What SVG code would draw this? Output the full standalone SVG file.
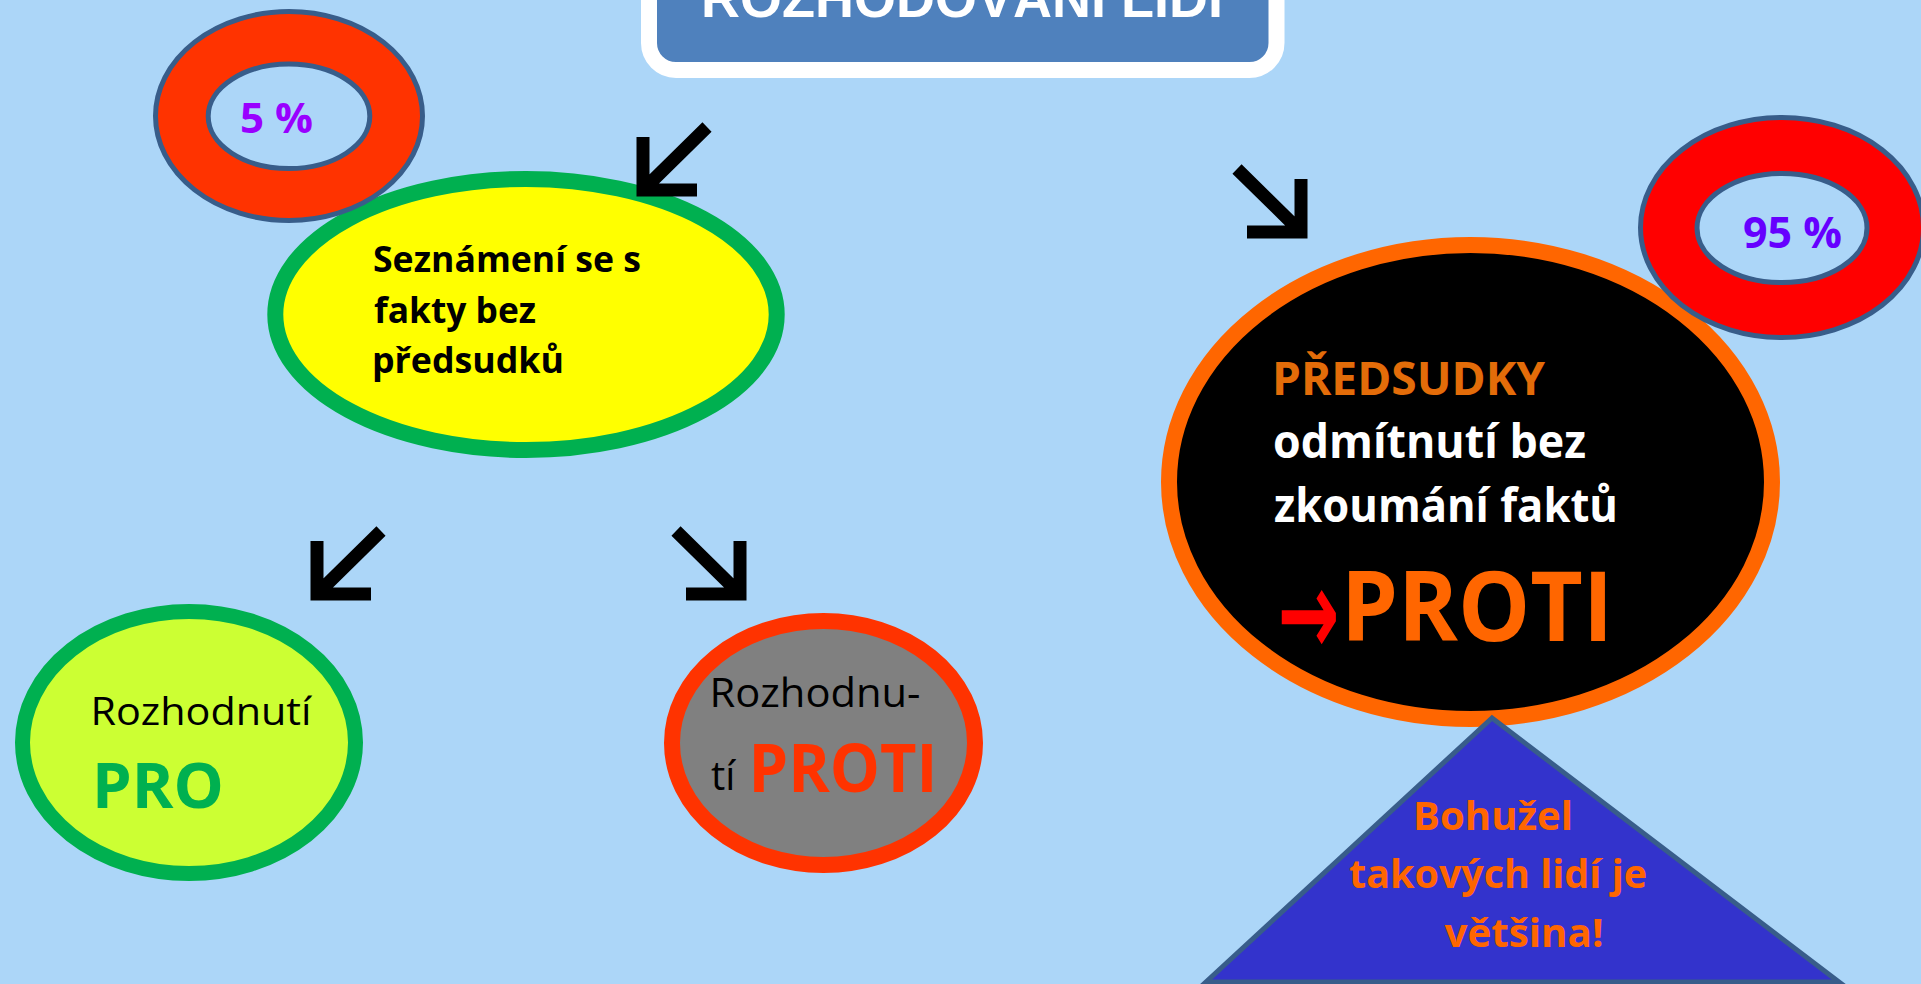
<svg xmlns="http://www.w3.org/2000/svg" width="1921" height="984" viewBox="0 0 1921 984">
<defs>
<style>
.t{font-family:"Open Sans","Noto Sans","DejaVu Sans",sans-serif}
.b{font-weight:700}
.r{font-weight:400}
.ring{stroke:#385D8A;stroke-width:5;fill-rule:evenodd}
.arr{fill:none;stroke:#000;stroke-width:13;stroke-linejoin:miter;stroke-linecap:butt}
</style>
<path id="arSW" d="M0,-53V0H54M0,0L64,-63"/>
<path id="arSE" d="M0,-53V0H-54M0,0L-64,-63"/>
</defs>
<rect width="1921" height="984" fill="#ACD6F8"/>

<g id="title">
<rect x="649" y="-60" width="627.5" height="130" rx="27" fill="#4F81BD" stroke="#FFFFFF" stroke-width="16"/>
<text x="962" y="17" text-anchor="middle" font-family="'Liberation Sans',Arial,sans-serif" font-weight="700" font-size="54" fill="#FFFFFF">ROZHODOVÁNÍ LIDÍ</text>
</g>

<g id="fakty">
<ellipse cx="526" cy="314.5" rx="250.7" ry="135.5" fill="#FFFF00" stroke="#00B050" stroke-width="16"/>
<text class="t b" x="373" y="272" font-size="35" fill="#000" textLength="268" lengthAdjust="spacingAndGlyphs">Seznámení se s</text>
<text class="t b" x="374" y="323" font-size="35" fill="#000" textLength="162" lengthAdjust="spacingAndGlyphs">fakty bez</text>
<text class="t b" x="372" y="373" font-size="35" fill="#000" textLength="192" lengthAdjust="spacingAndGlyphs">předsudků</text>
</g>

<g id="ring5">
<path class="ring" fill="#FF3300" d="M155.5,116a133.5,104.5 0 1,0 267,0a133.5,104.5 0 1,0 -267,0Z M208.2,116.3a80.8,52.2 0 1,0 161.6,0a80.8,52.2 0 1,0 -161.6,0Z"/>
<text class="t b" x="240" y="133" font-size="42" fill="#9900FF" textLength="73" lengthAdjust="spacingAndGlyphs">5 %</text>
</g>

<g id="pro">
<ellipse cx="189" cy="742.5" rx="166.5" ry="131" fill="#CCFF33" stroke="#00B050" stroke-width="15"/>
<text class="t r" x="90.5" y="725" font-size="39" fill="#000" textLength="221" lengthAdjust="spacingAndGlyphs">Rozhodnutí</text>
<text class="t b" x="92" y="808" font-size="63" fill="#00B050" textLength="132" lengthAdjust="spacingAndGlyphs">PRO</text>
</g>

<g id="proti">
<ellipse cx="823.5" cy="743" rx="151.5" ry="122" fill="#808080" stroke="#FF3300" stroke-width="16"/>
<text class="t r" x="709.5" y="707" font-size="40" fill="#000" textLength="211" lengthAdjust="spacingAndGlyphs">Rozhodnu-</text>
<text class="t r" x="711" y="790" font-size="40" fill="#000">tí</text>
<text class="t b" x="748.5" y="792" font-size="66" fill="#FF3300" textLength="189" lengthAdjust="spacingAndGlyphs">PROTI</text>
</g>

<g id="predsudky">
<ellipse cx="1470.5" cy="482" rx="301.5" ry="237" fill="#000000" stroke="#FF6600" stroke-width="16"/>
<text class="t b" x="1272" y="395" font-size="47" fill="#E36C09" textLength="273" lengthAdjust="spacingAndGlyphs">PŘEDSUDKY</text>
<text class="t b" x="1273" y="458" font-size="47" fill="#FFFFFF" textLength="313" lengthAdjust="spacingAndGlyphs">odmítnutí bez</text>
<text class="t b" x="1274" y="522" font-size="47" fill="#FFFFFF" textLength="344" lengthAdjust="spacingAndGlyphs">zkoumání faktů</text>
<text x="1277.5" y="655" font-family="'DejaVu Sans',sans-serif" font-weight="700" font-size="120" fill="#FF0000" textLength="62" lengthAdjust="spacingAndGlyphs">→</text>
<text class="t b" x="1341" y="641" font-size="96" fill="#FF6600" textLength="272" lengthAdjust="spacingAndGlyphs">PROTI</text>
</g>

<g id="ring95">
<path class="ring" fill="#FF0000" d="M1640.5,227.5a141.5,110 0 1,0 283,0a141.5,110 0 1,0 -283,0Z M1697,228a85,54.5 0 1,0 170,0a85,54.5 0 1,0 -170,0Z"/>
<text class="t b" x="1743" y="248" font-size="43" fill="#6600FF" textLength="99" lengthAdjust="spacingAndGlyphs">95 %</text>
</g>

<g id="vetsina">
<polygon points="1492,718 1206,982 1839,982" fill="#3333CC" stroke="#385D8A" stroke-width="5"/>
<text class="t b" x="1413" y="830" font-size="39" fill="#FF6600" textLength="160" lengthAdjust="spacingAndGlyphs">Bohužel</text>
<text class="t b" x="1349" y="888" font-size="39" fill="#FF6600" textLength="298" lengthAdjust="spacingAndGlyphs">takových lidí je</text>
<text class="t b" x="1444.5" y="947" font-size="39" fill="#FF6600" textLength="159" lengthAdjust="spacingAndGlyphs">většina!</text>
</g>

<g id="connectors">
<use href="#arSW" class="arr" x="643" y="190"/>
<use href="#arSW" class="arr" x="317" y="594"/>
<use href="#arSE" class="arr" x="740" y="594"/>
<use href="#arSE" class="arr" x="1301" y="232"/>
</g>
</svg>
